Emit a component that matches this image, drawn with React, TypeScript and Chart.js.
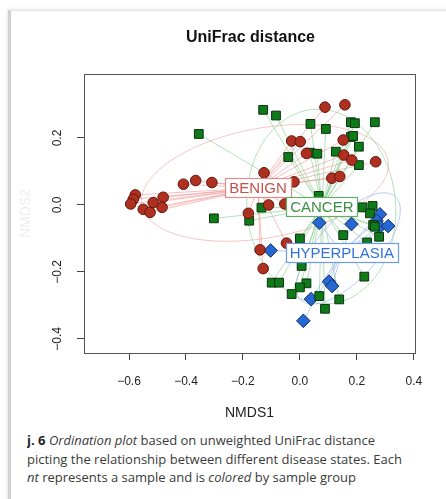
import React, { useEffect, useRef } from 'react';
import { Chart, registerables } from 'chart.js';

Chart.register(...registerables);

// ---- data ----
const groupNames = ['BENIGN', 'CANCER', 'HYPERPLASIA'];

const benignX = [-0.409, -0.366, -0.309, -0.578, -0.585, -0.594, -0.55, -0.526, -0.515, -0.48, -0.484, -0.181,
  0.088, 0.158, -0.029, 0.001, 0.152, 0.023, 0.154, 0.182, 0.266, -0.126, -0.021, 0.112, 0.14, -0.11, -0.053,
  -0.14, -0.129, -0.047];
const benignY = [0.062, 0.073, 0.067, 0.03, 0.017, 0.003, -0.013, -0.022, 0.007, 0.023, -0.007, -0.025,
  0.292, 0.299, 0.191, 0.189, 0.194, 0.154, 0.149, 0.134, 0.129, 0.096, 0.069, 0.08, 0.085, 0.0, 0.003,
  -0.134, -0.19, -0.114];

const cancerX = [-0.129, -0.084, 0.037, 0.091, 0.179, 0.193, 0.263, 0.179, 0.187, 0.207, 0.207, 0.126, -0.041,
  0.035, 0.061, 0.066, -0.135, -0.178, 0.22, 0.255, 0.246, 0.257, 0.278, 0.152, 0.0, 0.236, 0.006, 0.226,
  -0.099, -0.073, 0.023, 0.0, -0.029, 0.068, 0.138, 0.088, -0.355, -0.302, 0.263];
const cancerY = [0.284, 0.267, 0.242, 0.227, 0.247, 0.244, 0.247, 0.203, 0.206, 0.174, 0.119, 0.159, 0.143,
  0.156, 0.153, 0.027, -0.008, -0.047, -0.007, -0.003, -0.025, -0.06, -0.095, -0.09, -0.1, -0.112, -0.182,
  -0.214, -0.232, -0.232, -0.234, -0.246, -0.266, -0.272, -0.282, -0.31, 0.212, -0.04, -0.065];

const hyperX = [0.068, 0.181, -0.103, 0.281, 0.269, 0.281, 0.31, 0.102, 0.113, 0.039, 0.012];
const hyperY = [-0.053, -0.057, -0.136, -0.028, -0.047, -0.065, -0.063, -0.229, -0.242, -0.281, -0.346];

// group centroids (spider centres / label positions)
const centroidX = [-0.147, 0.077, 0.147];
const centroidY = [0.051, -0.006, -0.143];

// ellipses: centre, major and minor semi-axis vectors (data units)
const ellipseCX = [-0.123, 0.075, 0.17];
const ellipseCY = [0.066, -0.005, -0.13];
const ellipseUX = [0.432, 0.26, 0.165];
const ellipseUY = [0.067, 0.02, 0.155];
const ellipseVX = [-0.035, -0.03, 0.078];
const ellipseVY = [0.161, 0.29, -0.06];

const xTicks = [-0.6, -0.4, -0.2, 0.0, 0.2, 0.4];
const yTicks = [-0.4, -0.2, 0.0, 0.2];
const xRange = [-0.758, 0.404];
const yRange = [-0.442, 0.391];

// ---- styles ----
const FONT = '"Liberation Sans", Arial, Helvetica, sans-serif';
const pointFill = ['#b0301f', '#0f7a18', '#2667d2'];
const pointEdge = ['#5e1710', '#0a3310', '#102f6a'];
const pointShape = ['circle', 'rect', 'rectRot'];
const pointSize = [5.3, 6.2, 6.8];
const lineColor = ['rgba(240,140,140,0.55)', 'rgba(120,200,130,0.55)', 'rgba(130,160,235,0.55)'];
const ellipseColor = ['rgba(240,150,150,0.55)', 'rgba(130,205,140,0.6)', 'rgba(140,170,240,0.6)'];
const labelText = ['#c4514c', '#3b8f45', '#3470d6'];
const labelEdge = ['#df8c8a', '#63ad69', '#6f9be6'];

const seriesX = [benignX, cancerX, hyperX];
const seriesY = [benignY, cancerY, hyperY];

const fmt = (v: number) => {
  const s = Number(v).toFixed(1);
  return s.startsWith('-') ? '\u2212' + s.slice(1) : s;
};

const overlayPlugin = {
  id: 'overlay',
  beforeDatasetsDraw(chart: any) {
    const { ctx, chartArea, scales } = chart;
    const x = scales.x;
    const y = scales.y;
    ctx.save();
    ctx.beginPath();
    ctx.rect(chartArea.left, chartArea.top, chartArea.right - chartArea.left, chartArea.bottom - chartArea.top);
    ctx.clip();
    ctx.lineWidth = 1;
    // ellipses
    for (let i = 0; i < groupNames.length; i++) {
      ctx.strokeStyle = ellipseColor[i];
      ctx.beginPath();
      const n = 160;
      for (let k = 0; k <= n; k++) {
        const t = (k / n) * Math.PI * 2;
        const dx = ellipseCX[i] + ellipseUX[i] * Math.cos(t) + ellipseVX[i] * Math.sin(t);
        const dy = ellipseCY[i] + ellipseUY[i] * Math.cos(t) + ellipseVY[i] * Math.sin(t);
        const px = x.getPixelForValue(dx);
        const py = y.getPixelForValue(dy);
        if (k === 0) ctx.moveTo(px, py);
        else ctx.lineTo(px, py);
      }
      ctx.closePath();
      ctx.stroke();
    }
    // spider lines
    for (let i = 0; i < groupNames.length; i++) {
      ctx.strokeStyle = lineColor[i];
      const cx = x.getPixelForValue(centroidX[i]);
      const cy = y.getPixelForValue(centroidY[i]);
      const xs = seriesX[i];
      const ys = seriesY[i];
      for (let k = 0; k < xs.length; k++) {
        ctx.beginPath();
        ctx.moveTo(cx, cy);
        ctx.lineTo(x.getPixelForValue(xs[k]), y.getPixelForValue(ys[k]));
        ctx.stroke();
      }
    }
    ctx.restore();
  },
  afterDatasetsDraw(chart: any) {
    const { ctx, chartArea, scales } = chart;
    const x = scales.x;
    const y = scales.y;
    ctx.save();
    // group labels
    ctx.font = `15px ${FONT}`;
    ctx.textAlign = 'center';
    ctx.textBaseline = 'middle';
    for (let i = 0; i < groupNames.length; i++) {
      const cx = x.getPixelForValue(centroidX[i]);
      const cy = y.getPixelForValue(centroidY[i]);
      const w = ctx.measureText(groupNames[i]).width + 8;
      const h = 19;
      const l = Math.round(cx - w / 2) + 0.5;
      const t = Math.round(cy - h / 2) + 0.5;
      ctx.fillStyle = '#ffffff';
      ctx.fillRect(l, t, Math.round(w), h);
      ctx.strokeStyle = labelEdge[i];
      ctx.lineWidth = 1.2;
      ctx.strokeRect(l, t, Math.round(w), h);
      ctx.fillStyle = labelText[i];
      ctx.fillText(groupNames[i], cx, cy + 1);
    }
    // plot frame
    ctx.strokeStyle = '#555555';
    ctx.lineWidth = 1;
    ctx.strokeRect(
      Math.round(chartArea.left) + 0.5,
      Math.round(chartArea.top) + 0.5,
      Math.round(chartArea.right - chartArea.left),
      Math.round(chartArea.bottom - chartArea.top)
    );
    // main title
    ctx.font = `bold 16px ${FONT}`;
    ctx.fillStyle = '#111111';
    ctx.textAlign = 'center';
    ctx.textBaseline = 'middle';
    ctx.fillText('UniFrac distance', (chartArea.left + chartArea.right) / 2 + 1, 38);
    ctx.restore();
  },
};

function ScatterChart() {
  const ref = useRef<HTMLCanvasElement | null>(null);
  useEffect(() => {
    if (!ref.current) return;
    const chart = new Chart(ref.current, {
      type: 'scatter',
      data: {
        datasets: groupNames.map((name, i) => ({
          label: name,
          data: seriesX[i].map((v, k) => ({ x: v, y: seriesY[i][k] })),
          pointStyle: pointShape[i] as any,
          pointRadius: pointSize[i],
          pointHoverRadius: pointSize[i],
          backgroundColor: pointFill[i],
          borderColor: pointEdge[i],
          pointBorderWidth: 1,
        })),
      },
      options: {
        responsive: false,
        animation: false,
        events: [],
        layout: { padding: { left: 0, right: 31, top: 74, bottom: 0 } },
        plugins: {
          legend: { display: false },
          title: { display: false },
          tooltip: { enabled: false },
        },
        scales: {
          x: {
            type: 'linear',
            min: xRange[0],
            max: xRange[1],
            afterBuildTicks: (s: any) => {
              s.ticks = xTicks.map((v) => ({ value: v }));
            },
            afterFit: (s: any) => {
              s.height = 77;
            },
            border: { display: false },
            grid: { display: true, drawOnChartArea: false, drawTicks: true, tickLength: 7, color: '#444', tickColor: '#444' },
            ticks: {
              autoSkip: false,
              maxRotation: 0,
              minRotation: 0,
              padding: 14,
              color: '#222',
              font: { family: FONT, size: 12 },
              callback: (v: any) => fmt(v),
            },
            title: {
              display: true,
              text: 'NMDS1',
              color: '#222',
              font: { family: FONT, size: 14 },
              padding: { top: 0, bottom: 8 },
            },
          },
          y: {
            type: 'linear',
            min: yRange[0],
            max: yRange[1],
            afterBuildTicks: (s: any) => {
              s.ticks = yTicks.map((v) => ({ value: v }));
            },
            afterFit: (s: any) => {
              s.width = 84;
            },
            border: { display: false },
            grid: { display: true, drawOnChartArea: false, drawTicks: true, tickLength: 7, color: '#444', tickColor: '#444' },
            ticks: {
              autoSkip: false,
              minRotation: 90,
              maxRotation: 90,
              crossAlign: 'center',
              padding: 7,
              color: '#222',
              font: { family: FONT, size: 12 },
              callback: (v: any) => fmt(v),
            },
            title: {
              display: true,
              text: 'NMDS2',
              color: '#eeeeee',
              font: { family: FONT, size: 14 },
              padding: { top: 18, bottom: 0 },
            },
          },
        },
      },
      plugins: [overlayPlugin],
    } as any);
    return () => chart.destroy();
  }, []);
  return (
    <canvas
      ref={ref}
      width={446}
      height={430}
      style={{ position: 'absolute', left: 0, top: 0, width: 446, height: 430 }}
    />
  );
}

export default function App() {
  const cap: React.CSSProperties = {
    position: 'absolute',
    left: 27,
    top: 431,
    width: 419,
    fontFamily: '"Open Sans", "Noto Sans", sans-serif',
    fontSize: 13,
    lineHeight: '18.5px',
    color: '#3a3a3a',
    whiteSpace: 'nowrap',
    overflow: 'hidden',
  };
  return (
    <div style={{ position: 'absolute', left: 0, top: 0, width: 446, height: 499, overflow: 'hidden', background: '#fff' }}>
      <div
        style={{
          position: 'absolute',
          left: 8,
          top: 10,
          width: 460,
          height: 500,
          borderLeft: '3px solid #d2d2d2',
          borderTop: '1px solid #e4e4e4',
          boxShadow: '-1px -1px 3px rgba(0,0,0,0.10)',
        }}
      />
      <ScatterChart />
      <div style={cap}>
        <div>
          <b style={{ color: '#222' }}>j. 6</b> <i>Ordination plot</i> based on unweighted UniFrac distance
        </div>
        <div>picting the relationship between different disease states. Each</div>
        <div>
          <i>nt</i> represents a sample and is <i>colored</i> by sample group
        </div>
      </div>
    </div>
  );
}
